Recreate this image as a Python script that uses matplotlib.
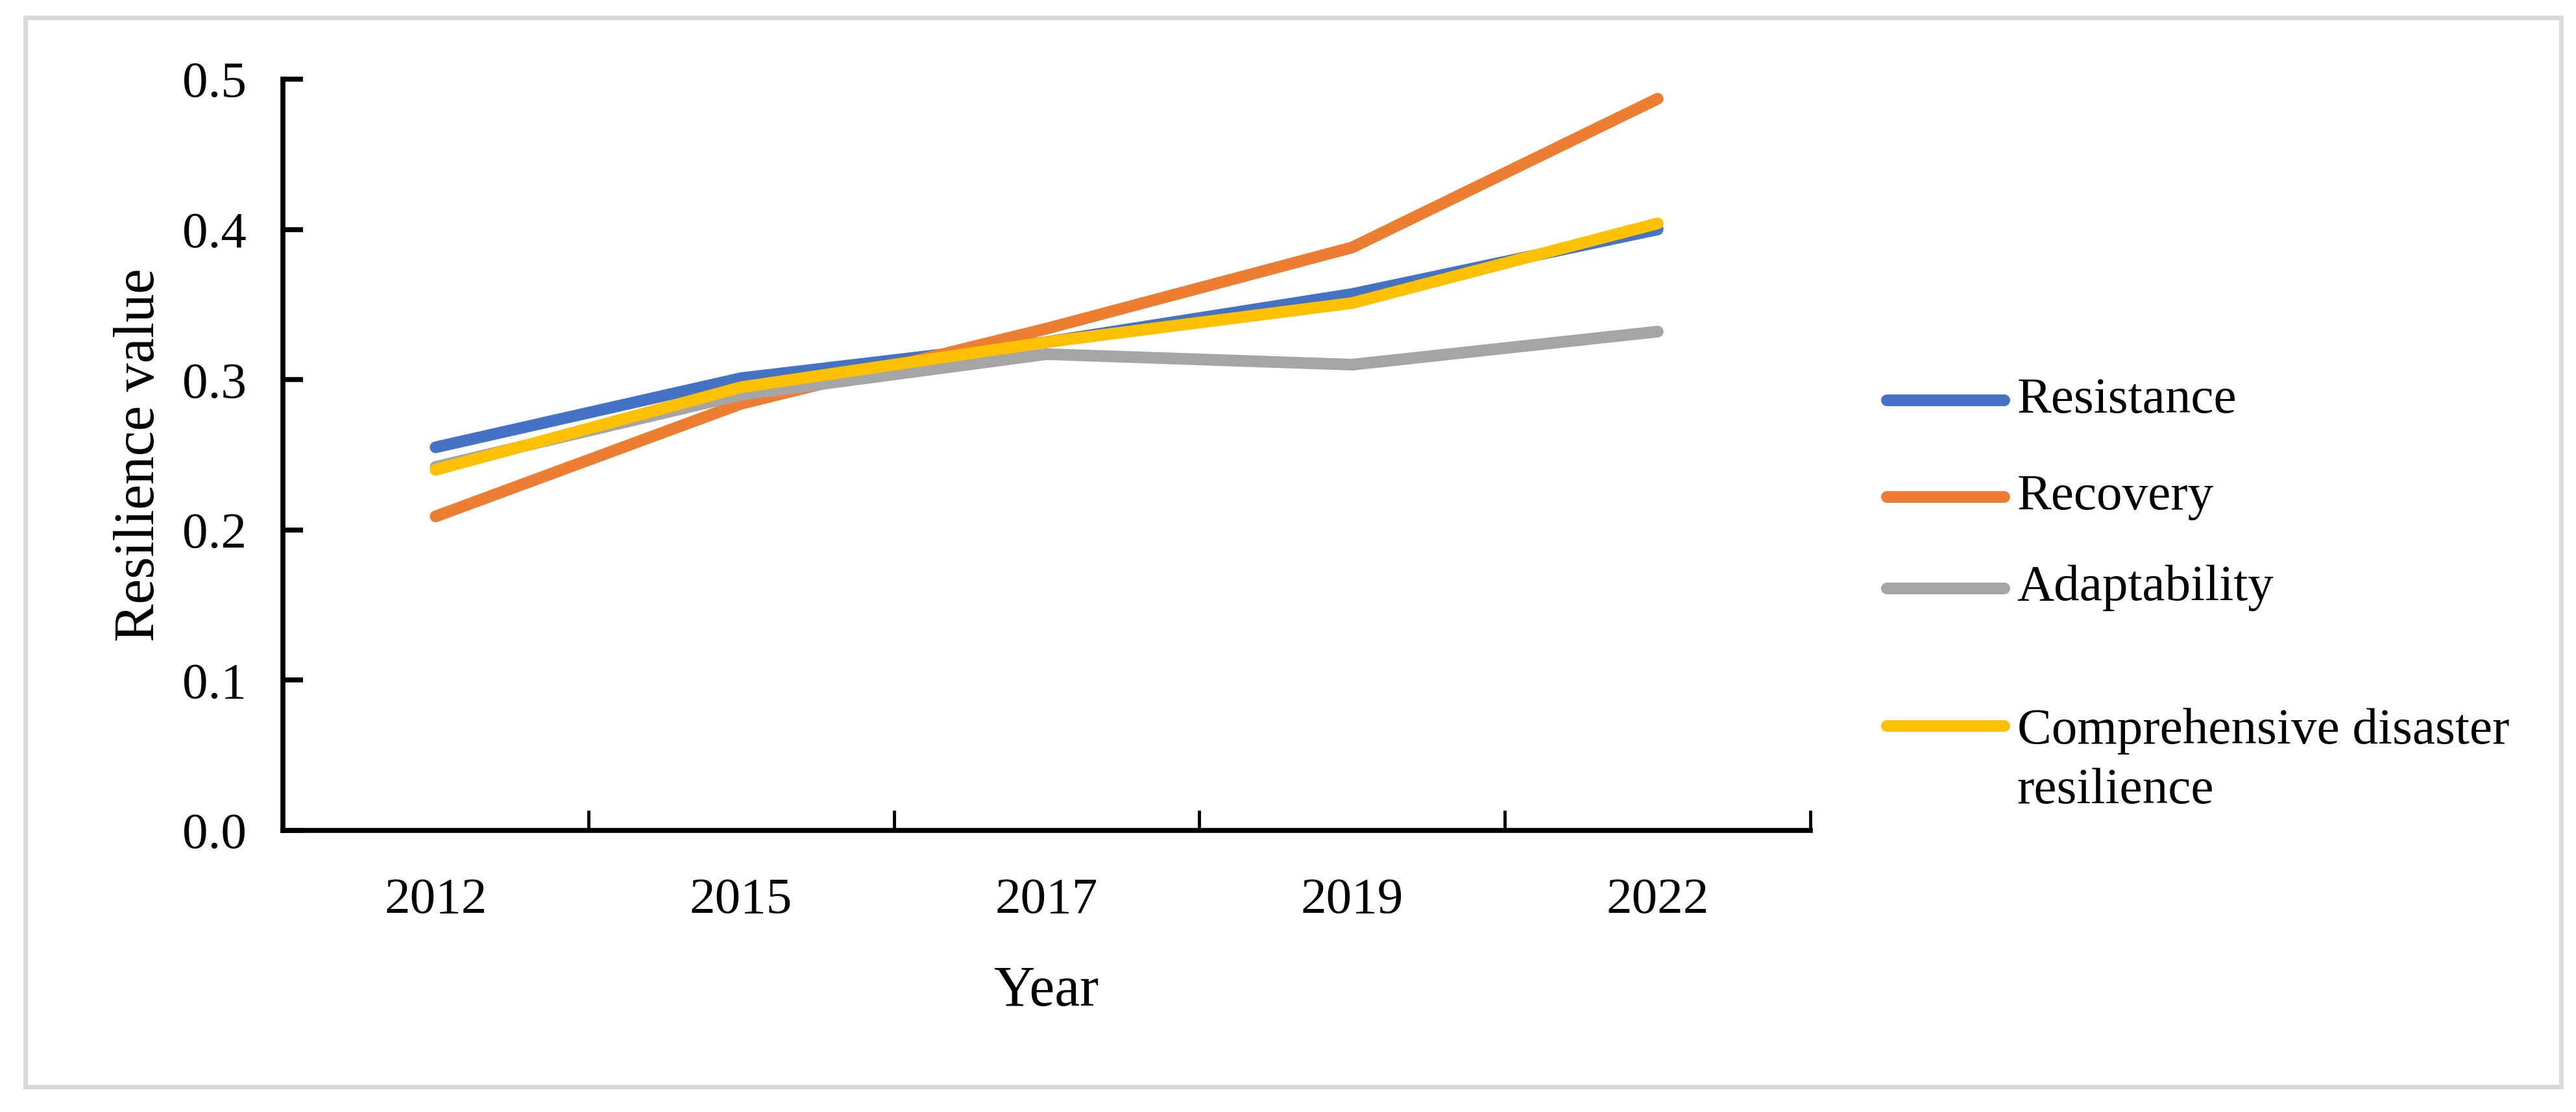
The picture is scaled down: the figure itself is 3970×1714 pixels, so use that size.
import matplotlib.pyplot as plt
from matplotlib.lines import Line2D
from matplotlib.patches import Rectangle

# data
years = ["2012", "2015", "2017", "2019", "2022"]
resistance = [0.255, 0.301, 0.325, 0.357, 0.400]
recovery = [0.209, 0.284, 0.334, 0.388, 0.487]
adaptability = [0.242, 0.290, 0.317, 0.310, 0.332]
comprehensive = [0.240, 0.295, 0.325, 0.351, 0.404]

names = ["Resistance", "Recovery", "Adaptability",
         "Comprehensive disaster\nresilience"]
colors = ["#4472C4", "#ED7D31", "#A5A5A5", "#FFC000"]
series = [resistance, recovery, adaptability, comprehensive]

plt.rcParams['font.family'] = ['Liberation Serif', 'DejaVu Serif']

fig = plt.figure(figsize=(39.7, 17.14), dpi=100)
ax = fig.add_axes([0.1098, 0.2532, 0.5930, 0.6756])

x = range(len(years))
for vals, c in zip(series, colors):
    ax.plot(x, vals, color=c, lw=13, solid_capstyle='round',
            solid_joinstyle='round')

ax.set_xlim(-0.5, len(years) - 0.5)
ax.set_ylim(0, 0.5)
ax.set_yticks([0, 0.1, 0.2, 0.3, 0.4, 0.5])
ax.set_yticklabels(["0.0", "0.1", "0.2", "0.3", "0.4", "0.5"])
ax.set_xticks(list(x))
ax.set_xticklabels(years)
ax.set_xticks([i + 0.5 for i in x], minor=True)

for s in ["top", "right"]:
    ax.spines[s].set_visible(False)
for s in ["left", "bottom"]:
    ax.spines[s].set_linewidth(5.5)

ax.tick_params(axis='y', direction='in', length=22, width=5.5,
               labelsize=57, pad=40)
ax.tick_params(axis='x', which='major', length=0, labelsize=57, pad=52)
ax.tick_params(axis='x', which='minor', direction='in', length=22, width=3.5)

ax.set_xlabel("Year", fontsize=63, labelpad=46)
ax.set_ylabel("Resilience value", fontsize=63, labelpad=18)

# legend drawn by hand so the two-line entry keeps its line at the first row
leg_y = [0.640, 0.553, 0.471, 0.347]
for name, c, yy in zip(names, colors, leg_y):
    fig.add_artist(Line2D([0.7325, 0.7780], [yy, yy], color=c, lw=13,
                          solid_capstyle='round', transform=fig.transFigure))
    if '\n' in name:
        fig.text(0.7830, yy + 0.0166, name, fontsize=57, va='top',
                 linespacing=1.38, transform=fig.transFigure)
    else:
        fig.text(0.7830, yy, name, fontsize=57, va='center',
                 transform=fig.transFigure)

# light grey frame round the whole picture
fig.add_artist(Rectangle((0.0098, 0.0228), 0.9844, 0.9614, fill=False,
                         edgecolor='#d9d9d9', lw=5, transform=fig.transFigure))

fig.savefig("out.png", dpi=100)
